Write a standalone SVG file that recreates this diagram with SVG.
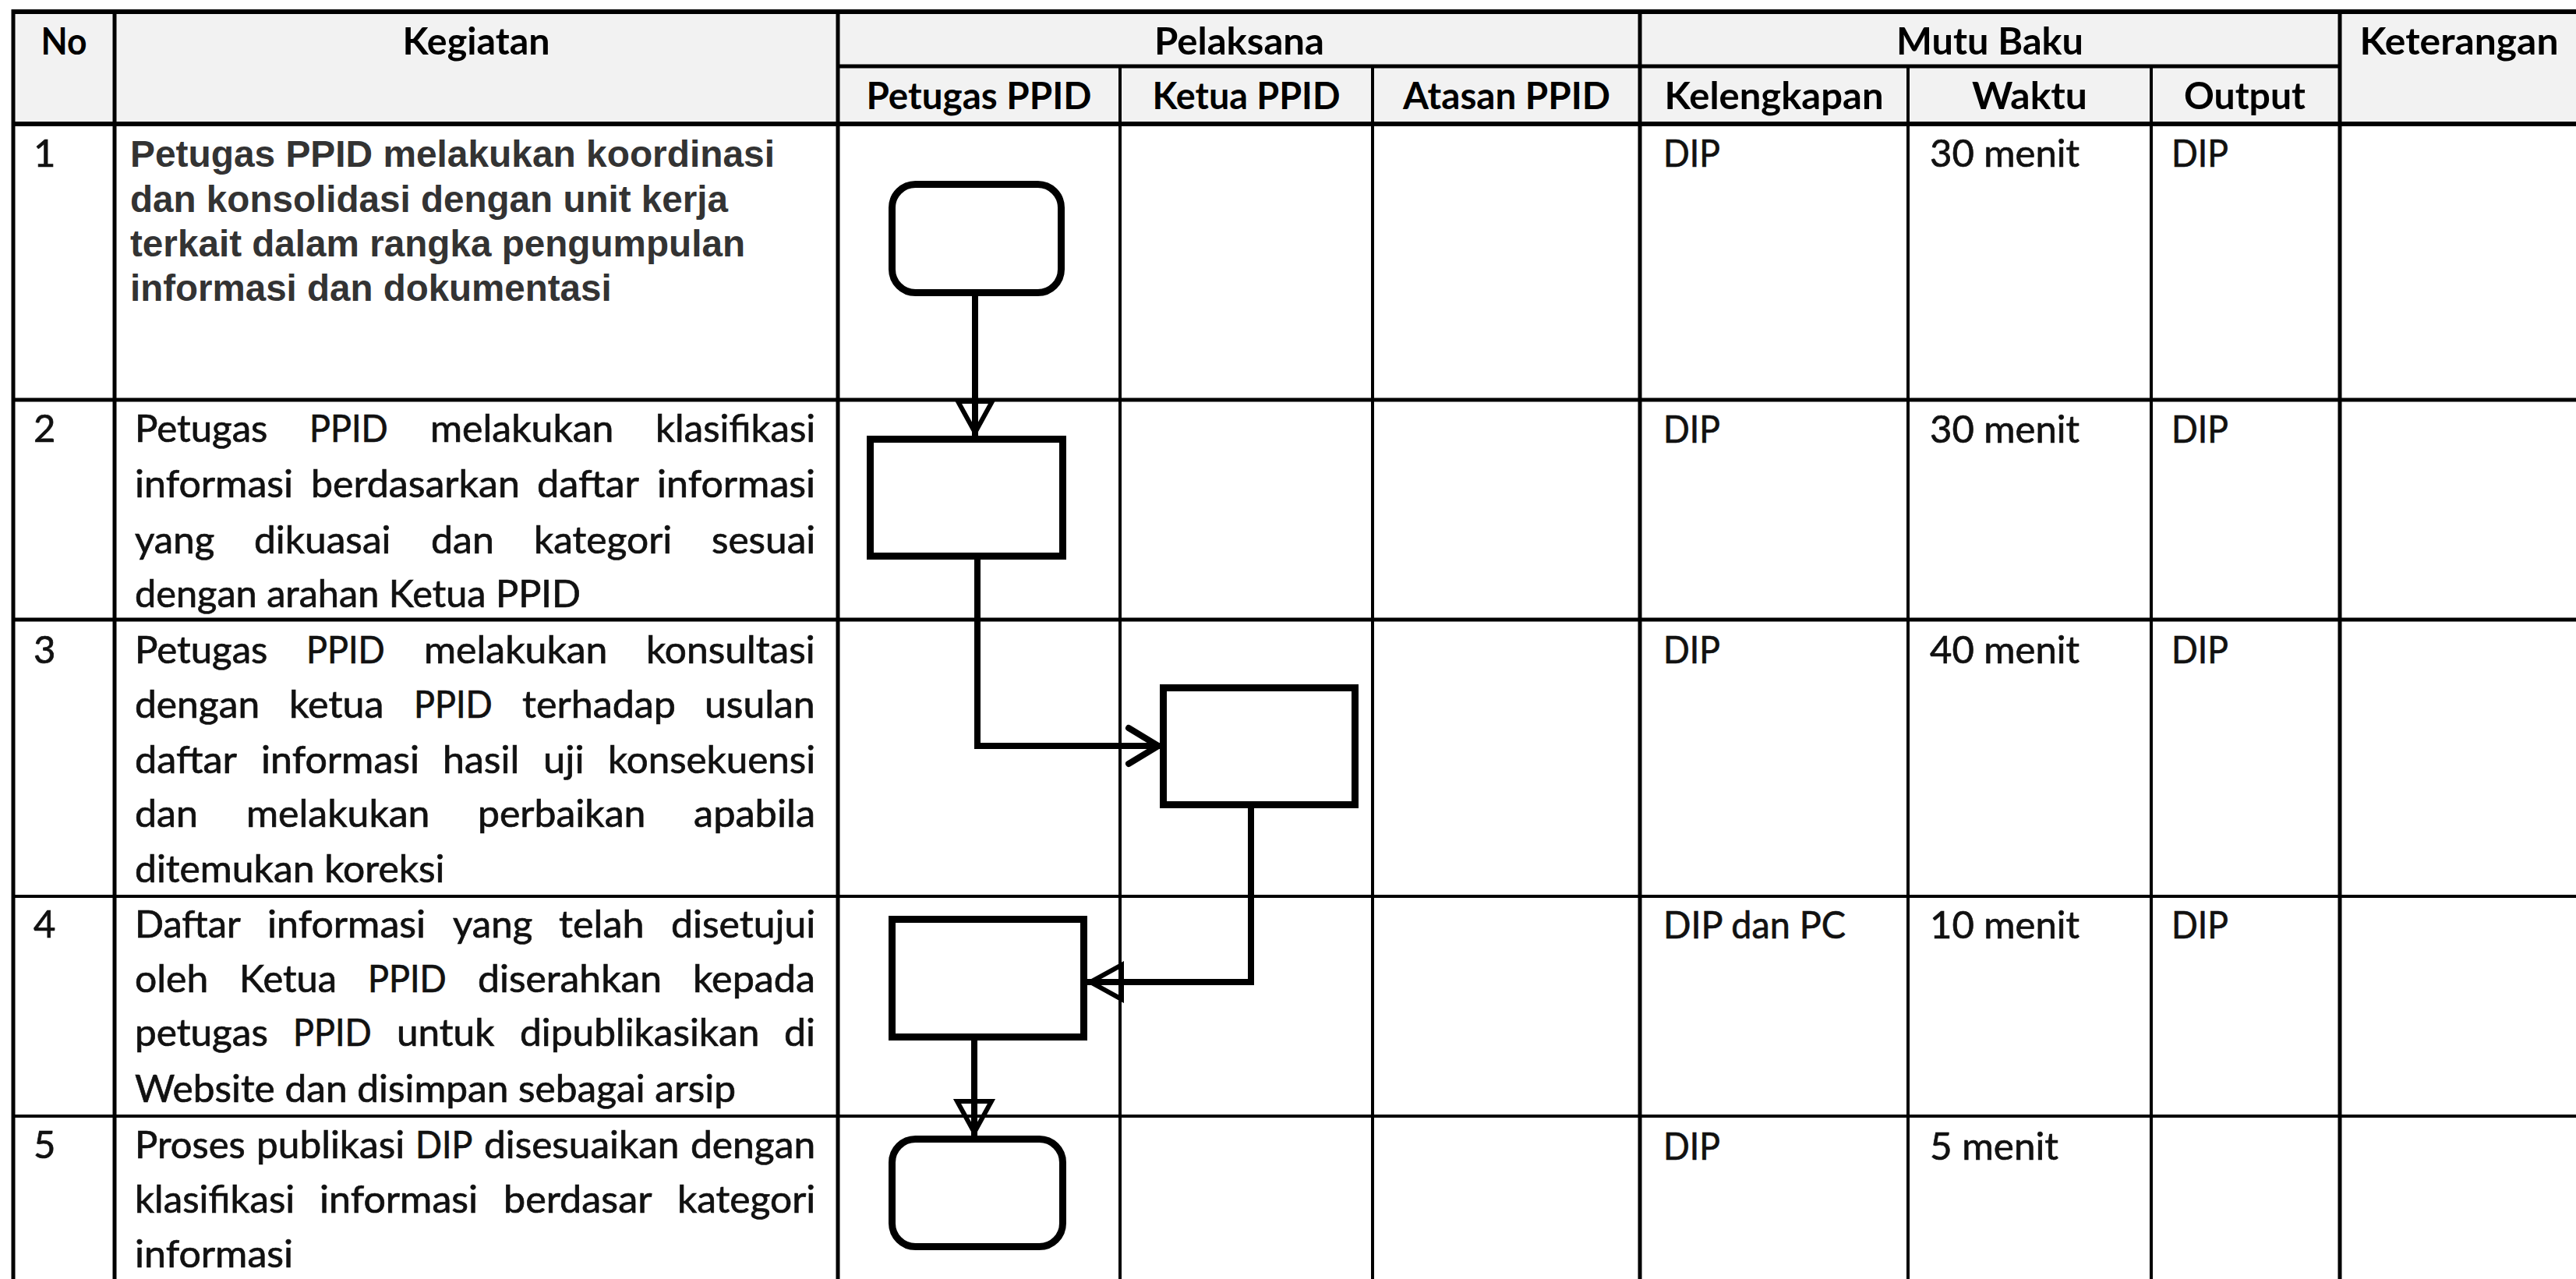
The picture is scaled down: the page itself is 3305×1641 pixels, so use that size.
<svg xmlns="http://www.w3.org/2000/svg" width="3305" height="1641" viewBox="0 0 3305 1641">
<defs>
<style>
.grid{stroke:#000;fill:none}
.hd{font-family:Lato,"Open Sans",sans-serif;font-weight:700;font-size:48px;fill:#000;text-anchor:middle}
.tx{font-family:Lato,"Open Sans",sans-serif;font-size:49px;fill:#111;stroke:#111;stroke-width:0.7px}
.b1{font-family:"Liberation Sans",Arial,sans-serif;font-weight:700;font-size:47.5px;fill:#333}
.node{fill:#fff;stroke:#000;stroke-width:9}
.conn{fill:none;stroke:#000;stroke-width:8}
</style>
<marker id="tri" markerUnits="userSpaceOnUse" viewBox="-50 -30 56 60" markerWidth="56" markerHeight="60" refX="0" refY="0" orient="auto">
<path d="M-44,-22 L-4,0 L-44,22 Z" fill="none" stroke="#000" stroke-width="6"/>
</marker>
<marker id="chev" markerUnits="userSpaceOnUse" viewBox="-50 -30 56 60" markerWidth="56" markerHeight="60" refX="0" refY="0" orient="auto">
<path d="M-40,-23 L-2,0 L-40,23" fill="none" stroke="#000" stroke-width="8" stroke-linecap="round" stroke-linejoin="round"/>
</marker>
</defs>
<rect width="3305" height="1641" fill="#fff"/>
<g id="table">
<rect x="17" y="15" width="3288" height="144" fill="#f2f2f2"/>
<path class="grid" stroke-width="6" d="M17,15 H3305 M17,159 H3305"/>
<path class="grid" stroke-width="5" d="M1075,85 H3002 M17,513 H3305 M17,795 H3305"/>
<path class="grid" stroke-width="4" d="M17,1150 H3305 M17,1432 H3305"/>
<path class="grid" stroke-width="5" d="M17,12 V1641 M147,15 V1641 M1075,15 V1641 M2104,15 V1641 M3002,15 V1641"/>
<path class="grid" stroke-width="4" d="M1437,85 V1641 M1761,85 V1641 M2448,85 V1641 M2760,85 V1641"/>
</g>
<g id="header">
<text class="hd" x="82" y="70" textLength="59" lengthAdjust="spacingAndGlyphs">No</text>
<text class="hd" x="611" y="70" textLength="189" lengthAdjust="spacingAndGlyphs">Kegiatan</text>
<text class="hd" x="1590" y="70" textLength="218" lengthAdjust="spacingAndGlyphs">Pelaksana</text>
<text class="hd" x="2553" y="70" textLength="240" lengthAdjust="spacingAndGlyphs">Mutu Baku</text>
<text class="hd" x="3155" y="70" textLength="255" lengthAdjust="spacingAndGlyphs">Keterangan</text>
<text class="hd" x="1256" y="140" textLength="289" lengthAdjust="spacingAndGlyphs">Petugas PPID</text>
<text class="hd" x="1599" y="140" textLength="241" lengthAdjust="spacingAndGlyphs">Ketua PPID</text>
<text class="hd" x="1933" y="140" textLength="266" lengthAdjust="spacingAndGlyphs">Atasan PPID</text>
<text class="hd" x="2276" y="140" textLength="281" lengthAdjust="spacingAndGlyphs">Kelengkapan</text>
<text class="hd" x="2604" y="140" textLength="148" lengthAdjust="spacingAndGlyphs">Waktu</text>
<text class="hd" x="2880" y="140" textLength="156" lengthAdjust="spacingAndGlyphs">Output</text>
</g>
<g id="row1">
<text class="tx" x="43" y="214">1</text>
<text class="b1" x="167" y="214" textLength="827" lengthAdjust="spacingAndGlyphs">Petugas PPID melakukan koordinasi</text>
<text class="b1" x="167" y="272" textLength="767" lengthAdjust="spacingAndGlyphs">dan konsolidasi dengan unit kerja</text>
<text class="b1" x="167" y="329" textLength="789" lengthAdjust="spacingAndGlyphs">terkait dalam rangka pengumpulan</text>
<text class="b1" x="167" y="386">informasi dan dokumentasi</text>
<text class="tx" x="2134" y="214" textLength="73" lengthAdjust="spacingAndGlyphs">DIP</text>
<text class="tx" x="2476" y="214" textLength="192" lengthAdjust="spacingAndGlyphs">30 menit</text>
<text class="tx" x="2786" y="214" textLength="73" lengthAdjust="spacingAndGlyphs">DIP</text>
</g>
<g id="row2">
<text class="tx" x="43" y="567">2</text>
<text class="tx" y="567"><tspan x="173" textLength="170.4" lengthAdjust="spacingAndGlyphs">Petugas</tspan><tspan x="397" textLength="100.8" lengthAdjust="spacingAndGlyphs">PPID</tspan><tspan x="552" textLength="235.5" lengthAdjust="spacingAndGlyphs">melakukan</tspan><tspan x="841" textLength="205.2" lengthAdjust="spacingAndGlyphs">klasifikasi</tspan></text>
<text class="tx" y="638"><tspan x="173" textLength="203.1" lengthAdjust="spacingAndGlyphs">informasi</tspan><tspan x="399" textLength="267.9" lengthAdjust="spacingAndGlyphs">berdasarkan</tspan><tspan x="689" textLength="131" lengthAdjust="spacingAndGlyphs">daftar</tspan><tspan x="843" textLength="203.1" lengthAdjust="spacingAndGlyphs">informasi</tspan></text>
<text class="tx" y="710"><tspan x="173" textLength="102.2" lengthAdjust="spacingAndGlyphs">yang</tspan><tspan x="326" textLength="175.5" lengthAdjust="spacingAndGlyphs">dikuasai</tspan><tspan x="553" textLength="81" lengthAdjust="spacingAndGlyphs">dan</tspan><tspan x="685" textLength="177.2" lengthAdjust="spacingAndGlyphs">kategori</tspan><tspan x="913" textLength="133.2" lengthAdjust="spacingAndGlyphs">sesuai</tspan></text>
<text class="tx" x="173" y="779" textLength="572" lengthAdjust="spacingAndGlyphs">dengan arahan Ketua PPID</text>
<text class="tx" x="2134" y="568" textLength="73" lengthAdjust="spacingAndGlyphs">DIP</text>
<text class="tx" x="2476" y="568" textLength="192" lengthAdjust="spacingAndGlyphs">30 menit</text>
<text class="tx" x="2786" y="568" textLength="73" lengthAdjust="spacingAndGlyphs">DIP</text>
</g>
<g id="row3">
<text class="tx" x="43" y="851">3</text>
<text class="tx" y="851"><tspan x="173" textLength="170.4" lengthAdjust="spacingAndGlyphs">Petugas</tspan><tspan x="393" textLength="100.8" lengthAdjust="spacingAndGlyphs">PPID</tspan><tspan x="544" textLength="235.5" lengthAdjust="spacingAndGlyphs">melakukan</tspan><tspan x="829" textLength="216.6" lengthAdjust="spacingAndGlyphs">konsultasi</tspan></text>
<text class="tx" y="921"><tspan x="173" textLength="160.2" lengthAdjust="spacingAndGlyphs">dengan</tspan><tspan x="371" textLength="121.5" lengthAdjust="spacingAndGlyphs">ketua</tspan><tspan x="531" textLength="100.8" lengthAdjust="spacingAndGlyphs">PPID</tspan><tspan x="670" textLength="196.9" lengthAdjust="spacingAndGlyphs">terhadap</tspan><tspan x="904" textLength="141.7" lengthAdjust="spacingAndGlyphs">usulan</tspan></text>
<text class="tx" y="992"><tspan x="173" textLength="131" lengthAdjust="spacingAndGlyphs">daftar</tspan><tspan x="335" textLength="203.1" lengthAdjust="spacingAndGlyphs">informasi</tspan><tspan x="568" textLength="98.2" lengthAdjust="spacingAndGlyphs">hasil</tspan><tspan x="697" textLength="52.6" lengthAdjust="spacingAndGlyphs">uji</tspan><tspan x="780" textLength="266" lengthAdjust="spacingAndGlyphs">konsekuensi</tspan></text>
<text class="tx" y="1061"><tspan x="173" textLength="81" lengthAdjust="spacingAndGlyphs">dan</tspan><tspan x="316" textLength="235.5" lengthAdjust="spacingAndGlyphs">melakukan</tspan><tspan x="613" textLength="215.4" lengthAdjust="spacingAndGlyphs">perbaikan</tspan><tspan x="890" textLength="156.1" lengthAdjust="spacingAndGlyphs">apabila</tspan></text>
<text class="tx" x="173" y="1132" textLength="397.5" lengthAdjust="spacingAndGlyphs">ditemukan koreksi</text>
<text class="tx" x="2134" y="851" textLength="73" lengthAdjust="spacingAndGlyphs">DIP</text>
<text class="tx" x="2476" y="851" textLength="192" lengthAdjust="spacingAndGlyphs">40 menit</text>
<text class="tx" x="2786" y="851" textLength="73" lengthAdjust="spacingAndGlyphs">DIP</text>
</g>
<g id="row4">
<text class="tx" x="43" y="1203">4</text>
<text class="tx" y="1203"><tspan x="173" textLength="135.8" lengthAdjust="spacingAndGlyphs">Daftar</tspan><tspan x="343" textLength="203.1" lengthAdjust="spacingAndGlyphs">informasi</tspan><tspan x="581" textLength="102.2" lengthAdjust="spacingAndGlyphs">yang</tspan><tspan x="717" textLength="109.5" lengthAdjust="spacingAndGlyphs">telah</tspan><tspan x="861" textLength="185.3" lengthAdjust="spacingAndGlyphs">disetujui</tspan></text>
<text class="tx" y="1273"><tspan x="173" textLength="94.3" lengthAdjust="spacingAndGlyphs">oleh</tspan><tspan x="307" textLength="124.9" lengthAdjust="spacingAndGlyphs">Ketua</tspan><tspan x="472" textLength="100.8" lengthAdjust="spacingAndGlyphs">PPID</tspan><tspan x="613" textLength="236.1" lengthAdjust="spacingAndGlyphs">diserahkan</tspan><tspan x="889" textLength="156.9" lengthAdjust="spacingAndGlyphs">kepada</tspan></text>
<text class="tx" y="1342"><tspan x="173" textLength="170.9" lengthAdjust="spacingAndGlyphs">petugas</tspan><tspan x="376" textLength="100.8" lengthAdjust="spacingAndGlyphs">PPID</tspan><tspan x="509" textLength="125.3" lengthAdjust="spacingAndGlyphs">untuk</tspan><tspan x="667" textLength="307.4" lengthAdjust="spacingAndGlyphs">dipublikasikan</tspan><tspan x="1006" textLength="40" lengthAdjust="spacingAndGlyphs">di</tspan></text>
<text class="tx" x="173" y="1414" textLength="771" lengthAdjust="spacingAndGlyphs">Website dan disimpan sebagai arsip</text>
<text class="tx" x="2134" y="1204" textLength="234" lengthAdjust="spacingAndGlyphs">DIP dan PC</text>
<text class="tx" x="2476" y="1204" textLength="192" lengthAdjust="spacingAndGlyphs">10 menit</text>
<text class="tx" x="2786" y="1204" textLength="73" lengthAdjust="spacingAndGlyphs">DIP</text>
</g>
<g id="row5">
<text class="tx" x="43" y="1486">5</text>
<text class="tx" y="1486"><tspan x="173" textLength="141.7" lengthAdjust="spacingAndGlyphs">Proses</tspan><tspan x="329" textLength="190.1" lengthAdjust="spacingAndGlyphs">publikasi</tspan><tspan x="533" textLength="73.4" lengthAdjust="spacingAndGlyphs">DIP</tspan><tspan x="621" textLength="250.5" lengthAdjust="spacingAndGlyphs">disesuaikan</tspan><tspan x="886" textLength="160.2" lengthAdjust="spacingAndGlyphs">dengan</tspan></text>
<text class="tx" y="1556"><tspan x="173" textLength="205.2" lengthAdjust="spacingAndGlyphs">klasifikasi</tspan><tspan x="410" textLength="203.1" lengthAdjust="spacingAndGlyphs">informasi</tspan><tspan x="646" textLength="190.5" lengthAdjust="spacingAndGlyphs">berdasar</tspan><tspan x="869" textLength="177.2" lengthAdjust="spacingAndGlyphs">kategori</tspan></text>
<text class="tx" x="173" y="1626" textLength="203.1" lengthAdjust="spacingAndGlyphs">informasi</text>
<text class="tx" x="2134" y="1488" textLength="73" lengthAdjust="spacingAndGlyphs">DIP</text>
<text class="tx" x="2476" y="1488" textLength="165" lengthAdjust="spacingAndGlyphs">5 menit</text>
</g>
<g id="connectors">
<path class="conn" d="M1251,380 V559" marker-end="url(#tri)"/>
<path class="conn" d="M1254,718 V957 H1488" marker-end="url(#chev)"/>
<path class="conn" d="M1605,1037 V1260 H1395" marker-end="url(#tri)"/>
<path class="conn" d="M1250,1335 V1457" marker-end="url(#tri)"/>
</g>
<g id="n1"><rect class="node" x="1144.5" y="236.5" width="217" height="139" rx="30"/></g>
<g id="n2"><rect class="node" x="1116.5" y="563.5" width="247" height="150"/></g>
<g id="n3"><rect class="node" x="1492.5" y="882.5" width="246" height="150"/></g>
<g id="n4"><rect class="node" x="1144.5" y="1179.5" width="246" height="151"/></g>
<g id="n5"><rect class="node" x="1144.5" y="1461.5" width="219" height="138" rx="30"/></g>
</svg>
